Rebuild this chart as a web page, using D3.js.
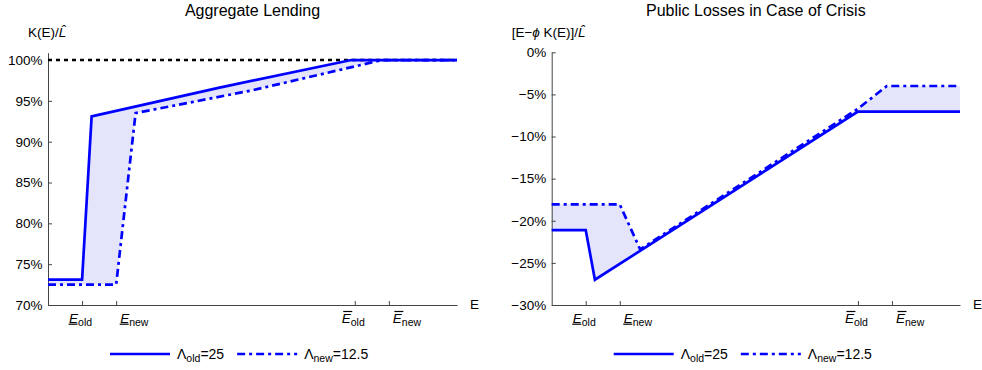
<!DOCTYPE html>
<html>
<head>
<meta charset="utf-8">
<script src="https://cdn.jsdelivr.net/npm/d3@7"></script>
<style>
  body { margin: 0; background: #fff; }
  svg text { font-family: "Liberation Sans", Arial, sans-serif; fill: #000; }
</style>
</head>
<body>
<svg id="chart" width="982" height="370"></svg>
<script>
// E ticks (arbitrary units) and their labels
const eTicks = [1, 2, 9, 10];
const eTickSubs = ['old', 'new', 'old', 'new'];
const eTickBars = ['under', 'under', 'over', 'over'];

// left panel: K(E)/L in %
const lendingTicks = [70, 75, 80, 85, 90, 95, 100];
const lendingOld = [[0, 73.1], [1, 73.1], [1.28, 93.1], [5, 96.6], [8.9, 100], [12, 100]];
const lendingNew = [[0, 72.5], [2, 72.5], [2.57, 93.5], [6, 96.3], [9.8, 100], [12, 100]];
const lendingRef = [[0, 100], [12, 100]];

// right panel: [E - phi K(E)]/L in %
const lossTicks = [-30, -25, -20, -15, -10, -5, 0];
const lossOld = [[0, -21.1], [1, -21.1], [1.27, -27], [9, -7.05], [12, -7.05]];
const lossNew = [[0, -18.05], [2, -18.05], [2.6, -23.4], [9, -6.7], [9.85, -4], [12, -4]];

const legendSubs = ['old', 'new'];
const legendValues = ['25', '12.5'];

const blue = '#0000ff';
const dashDot = '8,4,3,4';
const lineW = 2.7;

const svg = d3.select('#chart');
svg.append('rect').attr('width', 982).attr('height', 370).attr('fill', '#fff');

const pct = (d) => (d < 0 ? '\u2212' + -d : d) + '%';

const panels = [
  {
    title: 'Aggregate Lending', x0: 48, x1: 457, yDomain: [70, 100.9], yTop: 52.7,
    ticks: lendingTicks, old: lendingOld, neu: lendingNew, ref: lendingRef,
    ylabel: [['K(E)/', false], ['L\u0302', true]], ylabelX: 28
  },
  {
    title: 'Public Losses in Case of Crisis', x0: 551.7, x1: 960, yDomain: [-30, 0], yTop: 52.3,
    ticks: lossTicks, old: lossOld, neu: lossNew, ref: null,
    ylabel: [['[E\u2212', false], ['\u03d5', true], [' K(E)]/', false], ['L\u0302', true]], ylabelX: 511.7
  }
];

const chartBottom = 305;

panels.forEach((p) => {
  const g = svg.append('g');
  const x = d3.scaleLinear().domain([0, 12]).range([p.x0, p.x1]);
  const y = d3.scaleLinear().domain(p.yDomain).range([chartBottom, p.yTop]);

  // title
  g.append('text')
    .attr('x', (p.x0 + p.x1) / 2)
    .attr('y', 16)
    .attr('text-anchor', 'middle')
    .attr('font-size', '16px')
    .text(p.title);

  // y label
  const yl = g.append('text')
    .attr('x', p.ylabelX)
    .attr('y', 37)
    .attr('font-size', '13.5px');
  p.ylabel.forEach(([t, it]) => {
    yl.append('tspan').attr('font-style', it ? 'italic' : 'normal').text(t);
  });

  // shaded band between the two regimes
  const line = d3.line().x((d) => x(d[0])).y((d) => y(d[1]));
  g.append('path')
    .attr('d', line(p.old.concat(p.neu.slice().reverse())) + 'Z')
    .attr('fill', '#e4e4fb')
    .attr('stroke', 'none');

  // axes
  const yAxis = d3.axisLeft(y)
    .tickValues(p.ticks)
    .tickFormat(pct)
    .tickSizeInner(-4)
    .tickSizeOuter(0)
    .tickPadding(5.5);
  g.append('g')
    .attr('transform', `translate(${p.x0},0)`)
    .call(yAxis)
    .call((a) => a.selectAll('line, path').attr('stroke', '#444'))
    .call((a) => a.selectAll('text').attr('font-size', '13.5px').attr('font-family', null));

  const xAxis = d3.axisBottom(x)
    .tickValues(eTicks)
    .tickFormat('')
    .tickSizeInner(-4)
    .tickSizeOuter(0);
  g.append('g')
    .attr('transform', `translate(0,${chartBottom})`)
    .call(xAxis)
    .call((a) => a.selectAll('line, path').attr('stroke', '#444'));

  g.append('text')
    .attr('x', p.x1 + 13)
    .attr('y', chartBottom + 3.5)
    .attr('font-size', '13.5px')
    .text('E');

  // E tick labels with under/over bars
  eTicks.forEach((v, i) => {
    const lg = g.append('g');
    const t = lg.append('text').attr('y', chartBottom + 17.7);
    const e = t.append('tspan').attr('font-style', 'italic').attr('font-size', '13.5px').text('E');
    t.append('tspan').attr('font-size', '10.5px').attr('dy', 3.5).text(eTickSubs[i]);
    const w = t.node().getComputedTextLength();
    const ew = e.node().getComputedTextLength();
    const tx = eTickSubs[i] === 'old' ? x(v) - w / 2 - 1.5 : x(v) + 4;
    t.attr('x', tx);
    const by = eTickBars[i] === 'under' ? chartBottom + 19.2 : chartBottom + 6.5;
    const shift = eTickBars[i] === 'under' ? -0.5 : 1.5;
    lg.append('line')
      .attr('x1', tx + shift).attr('x2', tx + ew + shift)
      .attr('y1', by).attr('y2', by)
      .attr('stroke', '#000').attr('stroke-width', 1.2);
  });

  // reference line
  if (p.ref) {
    g.append('path')
      .attr('d', line(p.ref))
      .attr('fill', 'none')
      .attr('stroke', '#000')
      .attr('stroke-width', 2.4)
      .attr('stroke-dasharray', '4,4');
  }

  g.append('path')
    .attr('d', line(p.neu))
    .attr('fill', 'none')
    .attr('stroke', blue)
    .attr('stroke-width', lineW)
    .attr('stroke-dasharray', dashDot);

  g.append('path')
    .attr('d', line(p.old))
    .attr('fill', 'none')
    .attr('stroke', blue)
    .attr('stroke-width', lineW);

  // legend
  let lx = p.x0 + 62;
  const ly = 354;
  legendSubs.forEach((s, i) => {
    g.append('line')
      .attr('x1', lx).attr('x2', lx + 60)
      .attr('y1', ly).attr('y2', ly)
      .attr('stroke', blue)
      .attr('stroke-width', lineW)
      .attr('stroke-dasharray', i === 0 ? null : dashDot);
    const t = g.append('text')
      .attr('x', lx + 67)
      .attr('y', ly + 5)
      .attr('font-size', '14px');
    t.append('tspan').text('\u039b');
    t.append('tspan').attr('font-size', '10.5px').attr('dy', 2.5).text(s);
    t.append('tspan').attr('dy', -2.5).text('=' + legendValues[i]);
    lx += 67 + t.node().getComputedTextLength() + 13;
  });
});
</script>
</body>
</html>
